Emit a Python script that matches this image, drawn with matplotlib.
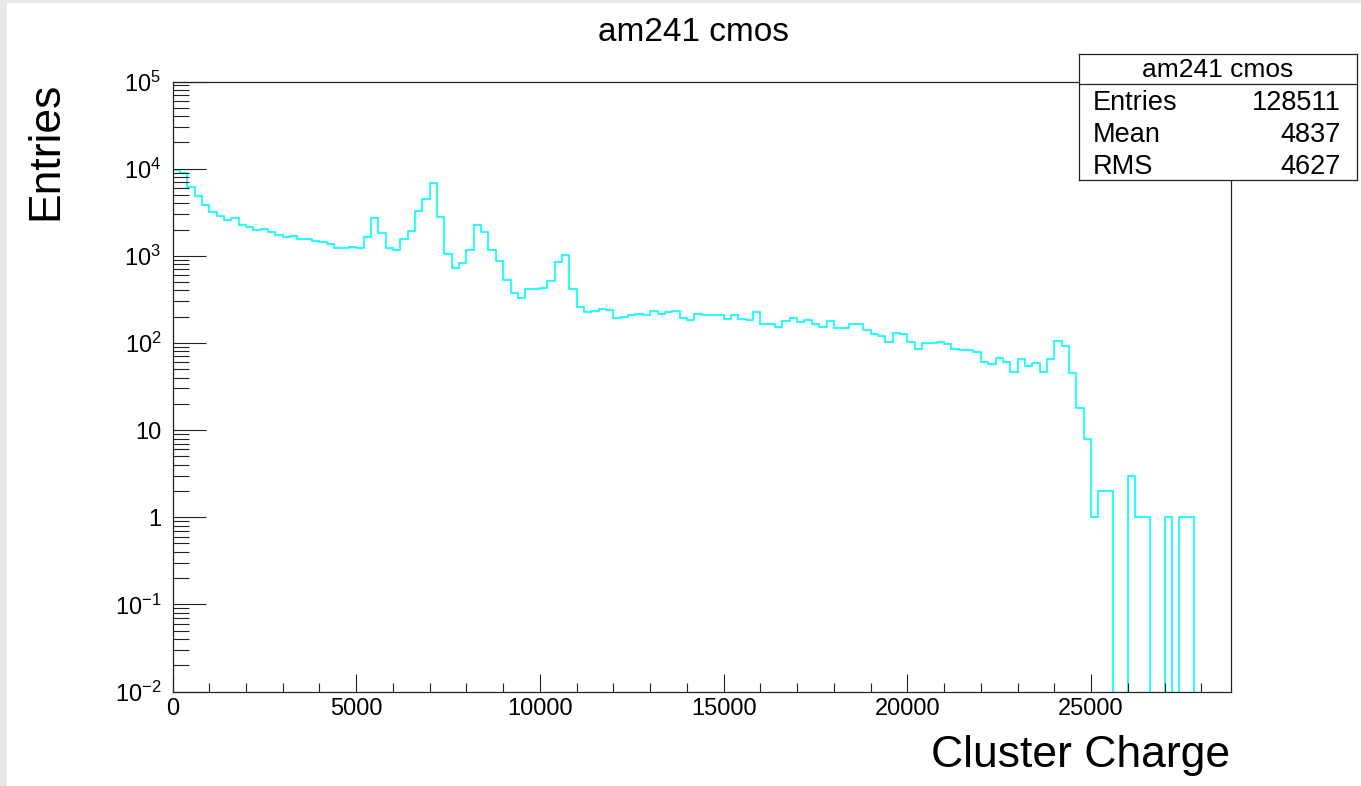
# -*- coding: utf-8 -*-
# Cluster charge spectrum of the am241 source on the cmos sensor (ROOT style histogram)

# Libs
import numpy as np
import matplotlib
matplotlib.use('Agg')
import matplotlib.pyplot as plt
from matplotlib.ticker import MultipleLocator, FixedLocator, LogLocator, NullFormatter, FuncFormatter
from matplotlib.patches import Rectangle

# Data
histTitle = 'am241 cmos'
xLabel = 'Cluster Charge'
yLabel = 'Entries'
binWidth = 200
nBins = 144
counts = [
    9600, 8830, 6190, 4810, 3850, 3150, 2830, 2590, 2690, 2230,
    2120, 1990, 2040, 1870, 1730, 1640, 1670, 1570, 1550, 1490,
    1440, 1350, 1240, 1220, 1270, 1220, 1640, 2690, 1810, 1240,
    1180, 1570, 1900, 3290, 4510, 6890, 2760, 1040, 716, 818,
    1180, 2230, 1860, 1180, 877, 530, 376, 330, 411, 411,
    422, 513, 853, 1030, 418, 260, 224, 234, 244, 240,
    193, 198, 207, 216, 209, 230, 214, 224, 230, 193,
    181, 212, 209, 209, 209, 188, 207, 189, 184, 224,
    166, 166, 151, 179, 194, 175, 184, 164, 152, 179,
    148, 148, 166, 163, 141, 128, 120, 102, 131, 126,
    103, 86, 99, 99, 103, 98, 85, 82, 84, 78,
    60, 57, 68, 60, 47, 66, 54, 59, 46, 66,
    106, 92, 45, 18, 8, 1, 2, 2, 0, 0,
    3, 1, 1, 0, 0, 1, 0, 1, 1, 0,
    0, 0, 0, 0,
]
yDecades = [1e-2, 1e-1, 1, 10, 1e2, 1e3, 1e4, 1e5]
statNames = ['Entries', 'Mean', 'RMS']
statValues = ['128511', '4837', '4627']

# Style
plt.rcParams['font.family'] = ['Liberation Sans', 'DejaVu Sans']
plt.rcParams['mathtext.fontset'] = 'custom'
plt.rcParams['mathtext.rm'] = 'Liberation Sans'
plt.rcParams['mathtext.it'] = 'Liberation Sans:italic'
plt.rcParams['mathtext.bf'] = 'Liberation Sans:bold'

W, H = 1361, 786
fig = plt.figure(figsize=(W / 100, H / 100), dpi=100)
fig.patch.set_facecolor('white')

# grey screenshot border (left and top)
fig.add_artist(Rectangle((0, 0), 7 / W, 1, transform=fig.transFigure,
                         facecolor='#e8e8e8', edgecolor='none'))
fig.add_artist(Rectangle((0, 1 - 3 / H), 1, 3 / H, transform=fig.transFigure,
                         facecolor='#e8e8e8', edgecolor='none'))

# main axes (pixel box of the frame)
left, right, top, bottom = 172.5, 1230.7, 81.5, 691.5
ax = fig.add_axes([left / W, 1 - bottom / H, (right - left) / W, (bottom - top) / H])

edges = np.arange(nBins + 1) * binWidth
vals = np.array(counts, dtype=float)
# empty bins drop to the bottom of the log axis like ROOT does
vals = np.where(vals > 0, vals, 1e-9)
ax.stairs(vals, edges, baseline=None, color='#00ffff', linewidth=1.2)

ax.set_yscale('log')
ax.set_xlim(0, nBins * binWidth)
ax.set_ylim(yDecades[0], yDecades[-1])

# ticks
ax.xaxis.set_major_locator(MultipleLocator(5000))
ax.xaxis.set_minor_locator(MultipleLocator(1000))
ax.yaxis.set_major_locator(FixedLocator(yDecades))
ax.yaxis.set_minor_locator(LogLocator(base=10, subs=np.arange(2, 10), numticks=100))
ax.yaxis.set_minor_formatter(NullFormatter())


def logLabel(v, pos):
    e = int(round(np.log10(v)))
    if e == 0:
        return '1'
    if e == 1:
        return '10'
    return r'$10^{%d}$' % e


ax.yaxis.set_major_formatter(FuncFormatter(logLabel))
ax.tick_params(axis='both', which='both', direction='in', top=False, right=False,
               color='#222222', width=0.8, labelsize=17)
ax.tick_params(axis='x', which='major', length=13, pad=5)
ax.tick_params(axis='x', which='minor', length=6.8)
ax.tick_params(axis='y', which='major', length=23.5, pad=8)
ax.tick_params(axis='y', which='minor', length=11.5)
for sp in ax.spines.values():
    sp.set_linewidth(0.9)
    sp.set_color('#222222')

# titles
fig.text(693 / W, 1 - 41 / H, histTitle, ha='center', va='baseline', fontsize=24)
fig.text(1230 / W, 1 - 767 / H, xLabel, ha='right', va='baseline', fontsize=32)
fig.text(46 / W, 1 - 81.5 / H, yLabel, ha='center', va='top', rotation=90, fontsize=32)

# stats box
bx0, bx1, by0, by1 = 1079, 1357, 54, 180
sax = fig.add_axes([bx0 / W, 1 - by1 / H, (bx1 - bx0) / W, (by1 - by0) / H], zorder=5)
sax.set_xlim(bx0, bx1)
sax.set_ylim(by1, by0)
sax.set_xticks([])
sax.set_yticks([])
sax.set_facecolor('white')
for sp in sax.spines.values():
    sp.set_linewidth(0.9)
    sp.set_color('#222222')
sax.axhline(84, color='#222222', linewidth=0.9)
sax.text((bx0 + bx1) / 2, 70, histTitle, ha='center', va='center', fontsize=19)
for i, (name, value) in enumerate(zip(statNames, statValues)):
    yy = 103 + i * 32
    sax.text(1093, yy, name, ha='left', va='center', fontsize=19.5)
    sax.text(1341, yy, value, ha='right', va='center', fontsize=19.5)

fig.savefig('out.png', dpi=100)
